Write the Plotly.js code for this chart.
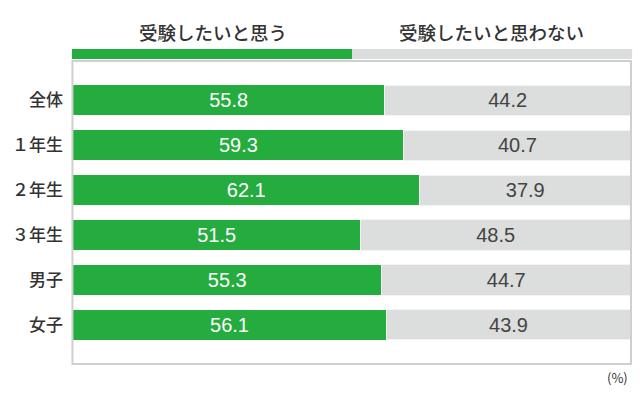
<!DOCTYPE html>
<html><head><meta charset="utf-8">
<script src="https://cdn.plot.ly/plotly-3.0.1.min.js"></script>
<style>html,body{margin:0;padding:0;background:#fff}#c{width:640px;height:400px}</style>
</head><body><div id="c"></div>
<script>
const categories = ["全体", "１年生", "２年生", "３年生", "男子", "女子"];
const yesValues = [55.8, 59.3, 62.1, 51.5, 55.3, 56.1];
const noValues = [44.2, 40.7, 37.9, 48.5, 44.7, 43.9];
const seriesNames = ["受験したいと思う", "受験したいと思わない"];
const unitLabel = "(%)";

const font = "'Noto Sans CJK JP', 'Noto Sans', sans-serif";
const numFont = "'Liberation Sans', Arial, sans-serif";
const green = "#25ac3f", gray = "#dcdddd";

const traces = [
  {type:"bar", orientation:"h", y:categories, x:yesValues, name:seriesNames[0],
   marker:{color:green, line:{color:"#ffffff", width:0}},
   text:yesValues.map(v=>v.toFixed(1)), textposition:"inside", insidetextanchor:"middle",
   textfont:{color:"#ffffff", size:20, family:numFont}, hoverinfo:"none"},
  {type:"bar", orientation:"h", y:categories, x:noValues, name:seriesNames[1],
   marker:{color:gray, line:{color:"#f4f4f4", width:1}},
   text:noValues.map(v=>v.toFixed(1)), textposition:"inside", insidetextanchor:"middle",
   textfont:{color:"#444444", size:20, family:numFont}, hoverinfo:"none"}
];

const layout = {
  width:640, height:400, barmode:"stack", bargap:0.333, showlegend:false,
  margin:{l:73, r:9, t:61, b:36},
  paper_bgcolor:"#fff", plot_bgcolor:"#fff",
  font:{family:font, color:"#333"},
  xaxis:{range:[0,100], visible:false, fixedrange:true},
  yaxis:{type:"category", autorange:false, range:[5.867,-0.867], showgrid:false, zeroline:false,
         ticks:"", ticklabelstandoff:9, tickfont:{size:17, color:"#333", family:font, weight:500}},
  shapes:[
    {type:"rect", xref:"paper", yref:"paper", x0:-0.001, x1:1.0, y0:0, y1:1.0,
     line:{color:"#cfcfcf", width:2}, fillcolor:"rgba(0,0,0,0)", layer:"above"},
    {type:"rect", xref:"paper", yref:"paper", x0:-0.002, x1:0.5, y0:1.007, y1:1.04,
     line:{width:0}, fillcolor:green},
    {type:"rect", xref:"paper", yref:"paper", x0:0.5, x1:1.002, y0:1.007, y1:1.04,
     line:{width:0}, fillcolor:gray}
  ],
  annotations:[
    {text:seriesNames[0], xref:"paper", yref:"paper", x:0.25, xanchor:"center", y:1.097, yanchor:"middle", showarrow:false,
     font:{size:18.5, color:"#333", family:font, weight:500}},
    {text:seriesNames[1], xref:"paper", yref:"paper", x:0.75, xanchor:"center", y:1.097, yanchor:"middle", showarrow:false,
     font:{size:18.5, color:"#333", family:font, weight:500}},
    {text:unitLabel, xref:"paper", yref:"paper", x:0.998, y:-0.045, xanchor:"right", yanchor:"middle", showarrow:false,
     font:{size:13, color:"#333", family:font}}
  ]
};
Plotly.newPlot("c", traces, layout, {displayModeBar:false, staticPlot:true});
</script></body></html>
